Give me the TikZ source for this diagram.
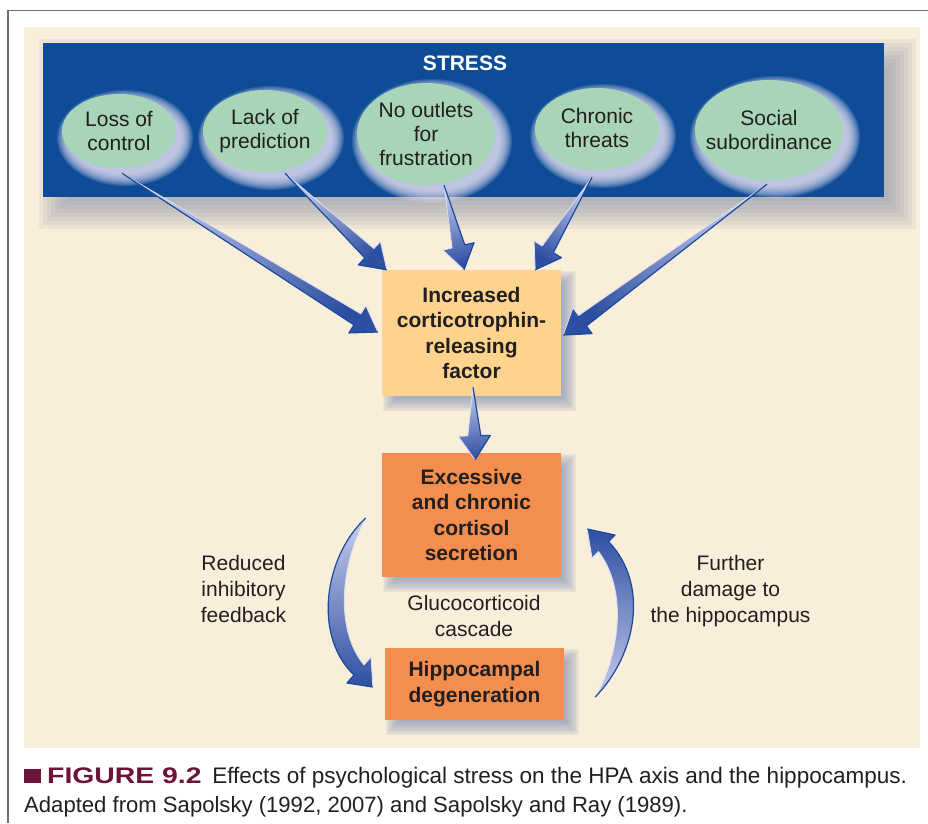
\documentclass[tikz,border=0pt]{standalone}
\usepackage{fontspec}
\setmainfont{Liberation Sans}
\usepackage{graphicx}
\usetikzlibrary{shapes.geometric,calc}

\pgfdeclarelayer{back}
\pgfdeclarelayer{shade}
\pgfsetlayers{back,shade,main}

\definecolor{paper}{HTML}{F9EEDA}
\definecolor{navy}{HTML}{0F4C97}
\definecolor{leaf}{HTML}{A8D4B8}
\definecolor{peach}{HTML}{FDD38E}
\definecolor{carrot}{HTML}{F48E4E}
\definecolor{ink}{HTML}{231F20}
\definecolor{wine}{HTML}{6D1238}
\definecolor{framegray}{HTML}{6E6E6E}
\definecolor{arrdark}{HTML}{2D4FA2}
\definecolor{arrlight}{HTML}{C9CCEB}
\definecolor{rimdark}{HTML}{184A9F}
\definecolor{rimlight}{HTML}{DCDEF3}
\definecolor{glowcol}{HTML}{E2E0F2}
\definecolor{dropgray}{HTML}{8792A6}
\definecolor{dropblue}{HTML}{8595B4}

% soft drop shadow under a rectangular node: node, dx, dy, spread, colour
\newcommand\softshade[5]{%
  \foreach \k in {0,...,9}{%
    \pgfmathsetmacro\ins{-#4+\k*#4/4.5}%
    \fill[#5, fill opacity=0.11]
      ($(#1.north west)+(#2+\ins,#3+\ins)$) rectangle ($(#1.south east)+(#2-\ins,#3-\ins)$);
  }%
}

% pale halo around an elliptic stressor: node, x radius, y radius
\newcommand\haze[3]{%
  \foreach \k in {0,...,11}{%
    \pgfmathsetmacro\grow{11-\k*1.1}%
    \fill[glowcol, fill opacity=0.14]
      ($(#1.center)+(6,7)$) ellipse [x radius=#2+\grow, y radius=#3+\grow];
  }%
}

% tapered block arrow from tail to tip; #3 = side (1 or -1) carrying the dark rim
\newcommand\taperarrow[3]{%
  \pgfmathanglebetweenpoints{\pgfpointanchor{#1}{center}}{\pgfpointanchor{#2}{center}}%
  \pgfmathsetmacro\tapang{\pgfmathresult-90}%
  \pgfmathsetmacro\sidea{90*#3}%
  \pgfmathsetmacro\sideb{-90*#3}%
  \coordinate (tap-b) at ($(#2)!24pt!(#1)$);
  \coordinate (tap-s1) at ($(tap-b)!6.5pt!\sidea:(#2)$);
  \coordinate (tap-h1) at ($(tap-b)!16pt!\sidea:(#2)$);
  \coordinate (tap-s2) at ($(tap-b)!6.5pt!\sideb:(#2)$);
  \coordinate (tap-h2) at ($(tap-b)!16pt!\sideb:(#2)$);
  \shade[top color=arrdark, bottom color=arrlight, shading angle=\tapang]
    (#1) -- (tap-s2) -- (tap-h2) -- (#2) -- (tap-h1) -- (tap-s1) -- cycle;
  \draw[rimlight, line width=0.8, line join=round] (#1) -- (tap-s2) -- (tap-h2) -- (#2);
  \draw[rimdark, line width=1.2, line join=round] (#1) -- (tap-s1) -- (tap-h1) -- (#2);
}

\begin{document}
\begin{tikzpicture}[x=1pt, y=-1pt,
  stressor/.style={ellipse, fill=leaf, inner sep=0pt},
  stressortext/.style={align=center, inner sep=0pt, text=ink,
    font=\fontsize{21}{24}\selectfont},
  stage/.style={rectangle, inner sep=0pt, align=center, text=ink,
    minimum width=179, font=\bfseries\fontsize{21}{25.5}\selectfont},
  note/.style={align=center, inner sep=0pt, text=ink,
    font=\fontsize{21}{26}\selectfont},
  caption/.style={anchor=base west, inner sep=0pt, text=ink,
    font=\fontsize{22.1}{26}\selectfont}]
\useasboundingbox (0,0) rectangle (928,823);

% page, panel and the STRESS band
\begin{pgfonlayer}{back}
  \fill[white] (0,0) rectangle (928,823);
  \fill[paper] (24,27) rectangle (920,748);
  \draw[framegray, line width=1.4] (8,823) -- (8,10.6) -- (928,10.6);
  \path node[rectangle, inner sep=0pt, minimum width=841, minimum height=154]
    (stressbox) at (463.5,120) {};
  \softshade{stressbox}{14}{14}{18}{dropgray}
  \fill[navy] (stressbox.north west) rectangle (stressbox.south east);
\end{pgfonlayer}

\node[font=\bfseries\fontsize{21}{24}\selectfont, text=white, inner sep=0pt]
  (stresslabel) at (465,63) {STRESS};

% stressors
\node[stressor, minimum width=114, minimum height=74] (loss) at (119,131) {};
\node[stressor, minimum width=124, minimum height=82] (lack) at (265,131) {};
\node[stressor, minimum width=138, minimum height=102] (outlets) at (426,134) {};
\node[stressor, minimum width=124, minimum height=82] (chronic) at (597,129) {};
\node[stressor, minimum width=148, minimum height=100] (social) at (769,130) {};

\node[stressortext] (loss-t) at (loss) {Loss of\\control};
\node[stressortext] (lack-t) at (lack) {Lack of\\prediction};
\node[stressortext] (outlets-t) at (outlets) {No outlets\\for\\frustration};
\node[stressortext] (chronic-t) at ([yshift=1pt]chronic.center) {Chronic\\threats};
\node[stressortext] (social-t) at (social) {Social\\subordinance};

\begin{pgfonlayer}{shade}
  \haze{loss}{57}{37}
  \haze{lack}{62}{41}
  \haze{outlets}{69}{51}
  \haze{chronic}{62}{41}
  \haze{social}{74}{50}
\end{pgfonlayer}

% stages of the cascade
\node[stage, fill=peach, minimum height=126] (crf) at (471.5,333)
  {Increased\\corticotrophin-\\releasing\\factor};
\node[stage, fill=carrot, minimum height=124] (cort) at (471.5,515)
  {Excessive\\and chronic\\cortisol\\secretion};
\node[stage, fill=carrot, minimum height=72] (hippo) at (474.5,684)
  {Hippocampal\\degeneration};

\begin{pgfonlayer}{shade}
  \softshade{crf}{8}{8}{7}{dropblue}
  \softshade{cort}{8}{8}{7}{dropblue}
  \softshade{hippo}{8}{8}{7}{dropblue}
\end{pgfonlayer}

% side notes
\node[note] (reduced) at (243.5,589) {Reduced\\inhibitory\\feedback};
\node[note] (gluco) at (474,616) {Glucocorticoid\\cascade};
\node[note] (further) at (730.5,591) {Further\\damage to\\the hippocampus};

% arrow ends
\coordinate (t1) at ($(loss.south)+(3,5)$);
\coordinate (t2) at ($(lack.south)+(20,1)$);
\coordinate (t3) at ($(outlets.south)+(18,0)$);
\coordinate (t4) at ($(chronic.south)+(-5,7)$);
\coordinate (t5) at ($(social.south)+(-2,4)$);
\coordinate (h1) at ($(crf.west)+(-4,-1)$);
\coordinate (h2) at ($(crf.north west)+(5,0)$);
\coordinate (h3) at ($(crf.north)+(-7.5,0)$);
\coordinate (h4) at ($(crf.north east)+(-26,0)$);
\coordinate (h5) at ($(crf.east)+(2,2)$);
\coordinate (t6) at ($(crf.south)+(1.5,-9)$);
\coordinate (h6) at ($(cort.north)+(3.5,7)$);

\taperarrow{t1}{h1}{-1}
\taperarrow{t2}{h2}{-1}
\taperarrow{t3}{h3}{1}
\taperarrow{t4}{h4}{1}
\taperarrow{t5}{h5}{1}
\taperarrow{t6}{h6}{1}

% feedback loop
\coordinate (lfTail) at ($(cort.west)+(-16,3)$);
\coordinate (lfTip) at ($(hippo.west)+(-12,3)$);
\coordinate (rtTail) at ($(hippo.east)+(31,13)$);
\coordinate (rtTip) at ($(cort.east)+(26,14)$);

\shade[top color=arrlight, bottom color=arrdark]
  (lfTail) .. controls (325,555) and (312,635) .. (354,675) -- (347,683) -- (lfTip)
  -- (371,657) -- (364,665) .. controls (335,630) and (340,565) .. (lfTail) -- cycle;
\draw[rimlight, line width=0.8, line join=round]
  (lfTip) -- (371,657) -- (364,665) .. controls (335,630) and (340,565) .. (lfTail);
\draw[rimdark, line width=1.2, line join=round]
  (lfTail) .. controls (325,555) and (312,635) .. (354,675) -- (347,683) -- (lfTip);

\shade[top color=arrdark, bottom color=arrlight]
  (rtTail) .. controls (636,655) and (650,585) .. (608.5,541.5) -- (615,535) -- (rtTip)
  -- (592,558) -- (598.5,551.5) .. controls (628,590) and (620,655) .. (rtTail) -- cycle;
\draw[rimlight, line width=0.8, line join=round]
  (rtTip) -- (592,558) -- (598.5,551.5) .. controls (628,590) and (620,655) .. (rtTail);
\draw[rimdark, line width=1.2, line join=round]
  (rtTail) .. controls (636,655) and (650,585) .. (608.5,541.5) -- (615,535) -- (rtTip);

% caption
\node[fill=wine, inner sep=0pt, minimum width=17, minimum height=14, anchor=south west]
  (capmark) at (24,783) {};
\node[caption, font=\fontsize{22.5}{26}\selectfont] (cap1) at (47,783)
  {\textcolor{wine}{\scalebox{1.26}[1]{\bfseries FIGURE 9.2}}\hspace{0.2em} Effects of psychological stress on the HPA axis and the hippocampus.};
\node[caption] (cap2) at (24,812)
  {Adapted from Sapolsky (1992, 2007) and Sapolsky and Ray (1989).};
\end{tikzpicture}
\end{document}
